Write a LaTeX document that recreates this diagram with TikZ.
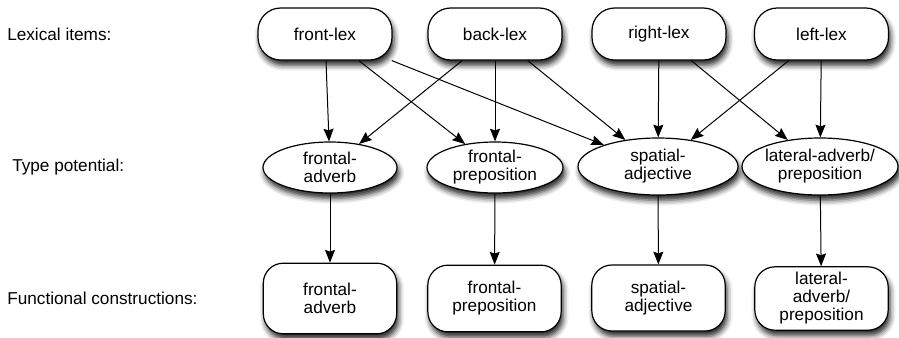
\documentclass[tikz,border=0pt]{standalone}
\usepackage{fontspec}
\setmainfont{Liberation Sans}
\usetikzlibrary{shapes.geometric,arrows.meta,shadows.blur}
\begin{document}
\begin{tikzpicture}[x=0.75pt,y=-0.75pt,
  every node/.style={font=\fontsize{12.9}{13.5}\selectfont},
  softshadow/.style={blur shadow={shadow xshift=1.5pt,shadow yshift=-4pt,shadow blur radius=4pt,shadow opacity=85}},
  lexbox/.style={draw, line width=0.9pt, fill=white, rounded corners=17pt, minimum width=100.5pt, minimum height=39pt, inner sep=0pt, align=center, softshadow},
  typeell/.style={draw, ellipse, line width=0.9pt, fill=white, inner sep=0pt, align=center, softshadow},
  funbox/.style={draw, line width=0.9pt, fill=white, rounded corners=15pt, minimum width=100pt, inner sep=0pt, align=center, softshadow},
  rowlabel/.style={anchor=base west, inner sep=0pt},
  arr/.style={-{Stealth[length=9.5pt,width=7.5pt,inset=1.2pt]}, line width=0.75pt}
]
\useasboundingbox (0,0) rectangle (899,337);

% row labels
\node[rowlabel] (lab1) at (7,40) {Lexical items:};
\node[rowlabel] (lab2) at (12,171.5) {Type potential:};
\node[rowlabel] (lab3) at (7,304) {Functional constructions:};

% lexical items
\node[lexbox] (fl) at (325,34) {front-lex};
\node[lexbox] (bl) at (495,34) {back-lex};
\node[lexbox] (rl) at (659,34) {right-lex};
\node[lexbox] (ll) at (821.5,34) {left-lex};

% type potential
\node[typeell, minimum width=100.5pt, minimum height=38.25pt] (fa) at (330,167.5) {frontal-\\adverb};
\node[typeell, minimum width=102pt, minimum height=38.25pt] (fp) at (495,167.5) {frontal-\\preposition};
\node[typeell, minimum width=120pt, minimum height=42.75pt] (sa) at (658,166.5) {spatial-\\adjective};
\node[typeell, minimum width=117pt, minimum height=42.75pt] (la) at (820,166.5) {lateral-adverb/\\preposition};

% functional constructions
\node[funbox, minimum height=53pt] (fa2) at (330,298.5) {frontal-\\adverb};
\node[funbox, minimum height=50pt] (fp2) at (494.5,298.5) {frontal-\\preposition};
\node[funbox, minimum height=49.5pt] (sa2) at (658.5,298) {spatial-\\adjective};
\node[funbox, minimum height=47.5pt] (la2) at (821.5,298.5) {lateral-\\adverb/\\preposition};

% connectors
\draw[arr] (fl) -- (fa);
\draw[arr] (fl) -- (fp);
\draw[arr] (fl) -- (sa);
\draw[arr] (bl) -- (fa);
\draw[arr] (bl) -- (fp);
\draw[arr] (bl) -- (sa);
\draw[arr] (rl) -- (sa);
\draw[arr] (rl) -- (la);
\draw[arr] (ll) -- (sa);
\draw[arr] (ll) -- (la);

\draw[arr] (fa) -- (fa2);
\draw[arr] (fp) -- (fp2);
\draw[arr] (sa) -- (sa2);
\draw[arr] (la) -- (la2);
\end{tikzpicture}
\end{document}
